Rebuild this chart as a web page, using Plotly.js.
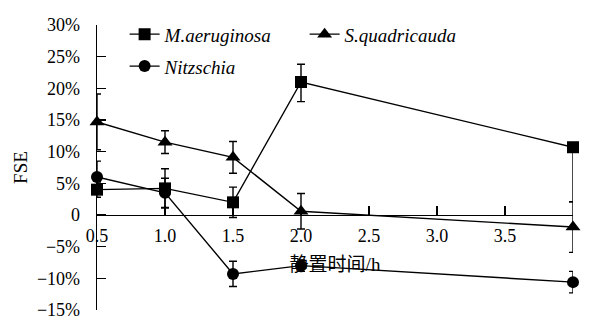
<!DOCTYPE html>
<html>
<head>
<meta charset="utf-8">
<script src="https://cdn.plot.ly/plotly-3.0.1.min.js"></script>
<style>html,body{margin:0;padding:0;background:#fff;}#chart{width:595px;height:325px;}</style>
</head>
<body>
<div id="chart"></div>
<script>
// Data
var hours = [0.5, 1.0, 1.5, 2.0, 4.0];

var maeruginosa = [4.0, 4.2, 2.0, 21.0, 10.7];
var maeruginosaErrPlus = [1.2, 3.1, 2.4, 2.8, 0];
var maeruginosaErrMinus = [1.2, 3.1, 2.4, 3.1, 8.6];

var squadricauda = [14.7, 11.5, 9.1, 0.6, -1.9];
var squadricaudaErr = [4.4, 1.8, 2.5, 2.8, 4.0];

var nitzschia = [6.0, 3.5, -9.3, -8.0, -10.6];
var nitzschiaErr = [2.5, 2.3, 2.0, 0.9, 1.7];

var xTickVals = [0.5, 1.0, 1.5, 2.0, 2.5, 3.0, 3.5, 4.0];
var xTickText = ['0.5', '1.0', '1.5', '2.0', '2.5', '3.0', '3.5', ''];
var yTickVals = [-15, -10, -5, 0, 5, 10, 15, 20, 25, 30];
var yTickText = ['\u221215%', '\u221210%', '\u22125%', '0', '5%', '10%', '15%', '20%', '25%', '30%'];

var serif = 'Liberation Serif';
var serifCJK = 'Liberation Serif, Noto Sans CJK SC';

function series(name, y, plus, minus, symbol, size, legendId) {
  return {
    type: 'scatter', mode: 'lines+markers', name: name, legend: legendId,
    x: hours, y: y, cliponaxis: false,
    line: {color: '#000', width: 1.4},
    marker: {symbol: symbol, size: size, color: '#000'},
    error_y: {type: 'data', symmetric: false, array: plus, arrayminus: minus,
              color: '#000', thickness: 1.4, width: 4}
  };
}

var data = [
  series('M.aeruginosa', maeruginosa, maeruginosaErrPlus, maeruginosaErrMinus, 'square', 12, 'legend'),
  series('S.quadricauda', squadricauda, squadricaudaErr, squadricaudaErr, 'triangle-up', 13, 'legend'),
  series('Nitzschia', nitzschia, nitzschiaErr, nitzschiaErr, 'circle', 12, 'legend2')
];

var legendFont = {family: serif, size: 19, style: 'italic', color: '#000'};

var layout = {
  width: 595, height: 325,
  margin: {l: 97, r: 22, t: 25, b: 15},
  paper_bgcolor: '#fff', plot_bgcolor: '#fff',
  showlegend: true,
  legend: {
    orientation: 'h', x: 0.058, xanchor: 'left', y: 1.034, yanchor: 'top',
    entrywidth: 135, bgcolor: 'rgba(0,0,0,0)', font: legendFont
  },
  legend2: {
    orientation: 'h', x: 0.058, xanchor: 'left', y: 0.922, yanchor: 'top',
    entrywidth: 135, bgcolor: 'rgba(0,0,0,0)', font: legendFont
  },
  xaxis: {
    range: [0.5, 4.0], anchor: 'free', position: 1/3,
    showline: true, linecolor: '#000', linewidth: 1.3,
    showgrid: false, zeroline: false,
    ticks: 'inside', ticklen: 9, tickwidth: 1.3, tickcolor: '#000',
    tickmode: 'array', tickvals: xTickVals, ticktext: xTickText,
    tickfont: {family: serif, size: 18, color: '#000'},
    ticklabelstandoff: 4,
    title: {text: '静置时间/h', font: {family: serifCJK, size: 19, color: '#000'}, standoff: 12},
    automargin: false
  },
  yaxis: {
    range: [-15, 30],
    showline: true, linecolor: '#000', linewidth: 1.3,
    showgrid: false, zeroline: false,
    ticks: 'inside', ticklen: 9, tickwidth: 1.3, tickcolor: '#000',
    tickmode: 'array', tickvals: yTickVals, ticktext: yTickText,
    tickfont: {family: serif, size: 18, color: '#000'},
    ticklabelstandoff: 12,
    title: {text: 'FSE', font: {family: serif, size: 19, color: '#000'}, standoff: 4},
    automargin: false
  }
};

Plotly.newPlot('chart', data, layout, {displayModeBar: false, staticPlot: true});
</script>
</body>
</html>
